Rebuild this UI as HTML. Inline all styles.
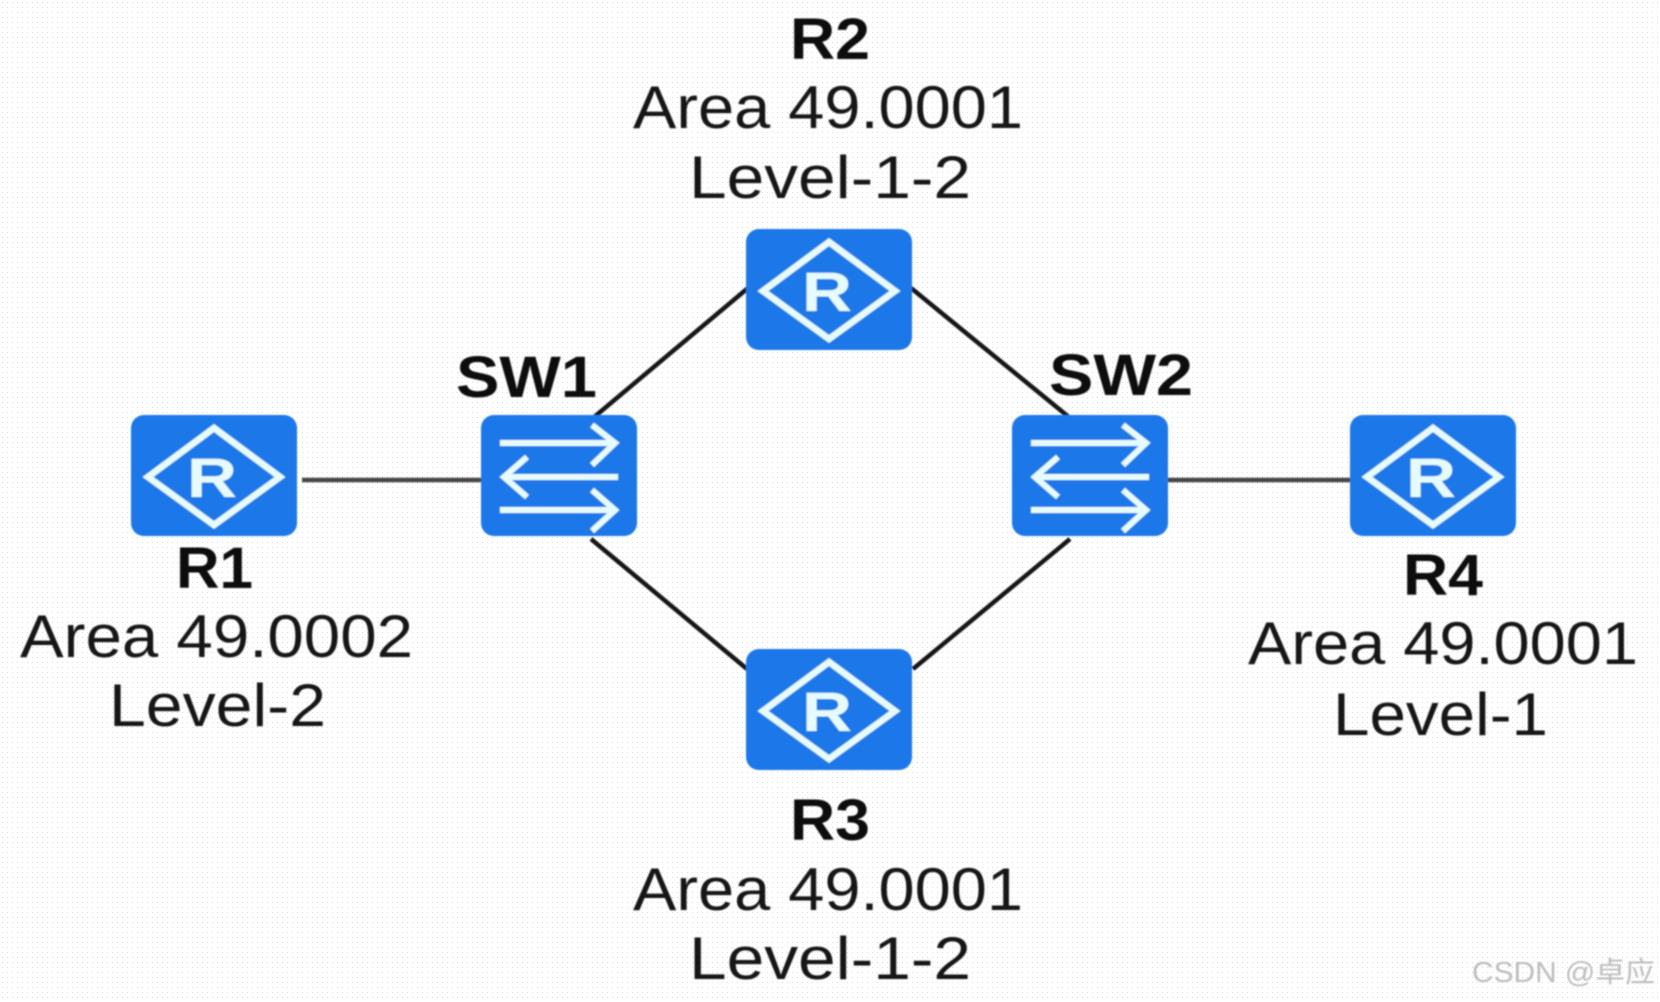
<!DOCTYPE html>
<html>
<head>
<meta charset="utf-8">
<style>
html,body{margin:0;padding:0;background:#fff;width:1660px;height:1002px;overflow:hidden}
svg{display:block}
text{font-family:"Liberation Sans","Noto Sans CJK SC",sans-serif;fill:#111}
.b{font-weight:700;font-size:58px}
.n{font-size:60px;fill:#161616}
.r{font-size:56px;font-weight:700;fill:#e6fbff}
.wm{font-size:29px;fill:#bdbdbd}
</style>
</head>
<body>
<svg width="1660" height="1002" viewBox="0 0 1660 1002" xmlns="http://www.w3.org/2000/svg">
<defs>
<pattern id="dots" width="5" height="5" patternUnits="userSpaceOnUse"><rect x="2" y="2" width="1" height="1" fill="#dedede"/></pattern>
<filter id="soft" x="-5%" y="-5%" width="110%" height="110%"><feGaussianBlur stdDeviation="0.7"/></filter>
</defs>
<rect width="1660" height="1002" fill="#fff"/>
<rect width="1660" height="1002" fill="url(#dots)"/>

<g filter="url(#soft)">
<!-- links -->
<g stroke="#161616" stroke-width="4.5" fill="none">
<line x1="302" y1="480" x2="481" y2="480" stroke="#444"/>
<line x1="593" y1="418" x2="748" y2="288"/>
<line x1="911" y1="288" x2="1070" y2="418"/>
<line x1="591" y1="539" x2="747" y2="669"/>
<line x1="1070" y1="539" x2="913" y2="669"/>
<line x1="1168" y1="480" x2="1350" y2="480" stroke="#444"/>
</g>

<!-- R1 -->
<g transform="translate(131,415)">
<rect width="166" height="121" rx="13" fill="#1f78e8"/>
<polygon points="83,13 149,62 83,110 17,62" fill="none" stroke="#e6fbff" stroke-width="6.5"/>
<text class="r" x="56" y="82" textLength="50" lengthAdjust="spacingAndGlyphs">R</text>
</g>
<!-- R2 -->
<g transform="translate(746,229)">
<rect width="166" height="121" rx="13" fill="#1f78e8"/>
<polygon points="83,13 149,62 83,110 17,62" fill="none" stroke="#e6fbff" stroke-width="6.5"/>
<text class="r" x="56" y="82" textLength="50" lengthAdjust="spacingAndGlyphs">R</text>
</g>
<!-- R3 -->
<g transform="translate(746,649)">
<rect width="166" height="121" rx="13" fill="#1f78e8"/>
<polygon points="83,13 149,62 83,110 17,62" fill="none" stroke="#e6fbff" stroke-width="6.5"/>
<text class="r" x="56" y="82" textLength="50" lengthAdjust="spacingAndGlyphs">R</text>
</g>
<!-- R4 -->
<g transform="translate(1350,415)">
<rect width="166" height="121" rx="13" fill="#1f78e8"/>
<polygon points="83,13 149,62 83,110 17,62" fill="none" stroke="#e6fbff" stroke-width="6.5"/>
<text class="r" x="56" y="82" textLength="50" lengthAdjust="spacingAndGlyphs">R</text>
</g>

<!-- SW1 -->
<g transform="translate(481,415)">
<rect width="156" height="121" rx="13" fill="#1f78e8"/>
<g fill="none" stroke="#e6fbff" stroke-width="6">
<path d="M19 28H132M111 10L134 28L111 50"/>
<path d="M137 62H23M46 42L23 62L46 82"/>
<path d="M19 95H134M111 75L134 95L111 116"/>
</g>
</g>
<!-- SW2 -->
<g transform="translate(1012,415)">
<rect width="156" height="121" rx="13" fill="#1f78e8"/>
<g fill="none" stroke="#e6fbff" stroke-width="6">
<path d="M19 28H132M111 10L134 28L111 50"/>
<path d="M137 62H23M46 42L23 62L46 82"/>
<path d="M19 95H134M111 75L134 95L111 116"/>
</g>
</g>

<!-- labels -->
<text class="b" x="790" y="59" textLength="80" lengthAdjust="spacingAndGlyphs">R2</text>
<text class="n" x="633" y="128" textLength="390" lengthAdjust="spacingAndGlyphs">Area 49.0001</text>
<text class="n" x="689" y="198" textLength="282" lengthAdjust="spacingAndGlyphs">Level-1-2</text>

<text class="b" x="456" y="397" textLength="141" lengthAdjust="spacingAndGlyphs">SW1</text>
<text class="b" x="1049" y="395" textLength="144" lengthAdjust="spacingAndGlyphs">SW2</text>

<text class="b" x="176" y="588" textLength="77" lengthAdjust="spacingAndGlyphs">R1</text>
<text class="n" x="20" y="657" textLength="393" lengthAdjust="spacingAndGlyphs">Area 49.0002</text>
<text class="n" x="109" y="726" textLength="217" lengthAdjust="spacingAndGlyphs">Level-2</text>

<text class="b" x="1403" y="595" textLength="80" lengthAdjust="spacingAndGlyphs">R4</text>
<text class="n" x="1248" y="664" textLength="390" lengthAdjust="spacingAndGlyphs">Area 49.0001</text>
<text class="n" x="1333" y="735" textLength="215" lengthAdjust="spacingAndGlyphs">Level-1</text>

<text class="b" x="790" y="840" textLength="80" lengthAdjust="spacingAndGlyphs">R3</text>
<text class="n" x="633" y="910" textLength="390" lengthAdjust="spacingAndGlyphs">Area 49.0001</text>
<text class="n" x="689" y="979" textLength="282" lengthAdjust="spacingAndGlyphs">Level-1-2</text>

<text class="wm" x="1472" y="982" textLength="183" lengthAdjust="spacingAndGlyphs">CSDN @卓应</text>
</g>
</svg>
</body>
</html>
